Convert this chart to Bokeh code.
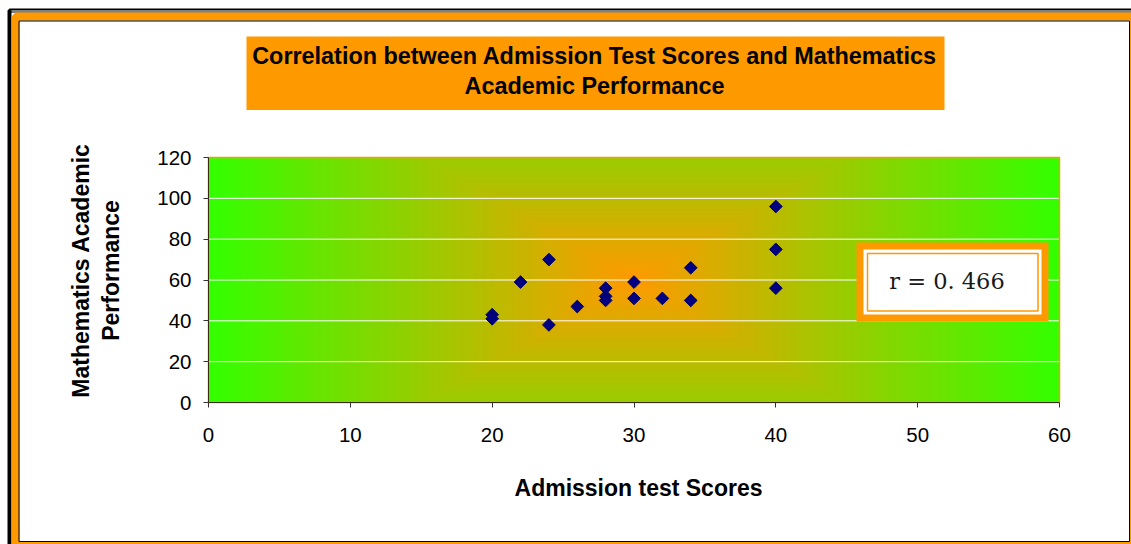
import numpy as np
from bokeh.plotting import figure
from bokeh.models import Range1d, FixedTicker, BoxAnnotation, Label
from bokeh.embed import file_html
from bokeh.resources import INLINE

# ---------------- data ----------------
admission_scores = [20, 20, 22, 24, 24, 26, 28, 28, 28, 30, 30, 32, 34, 34, 40, 40, 40]
math_performance = [43, 41, 59, 70, 38, 47, 56, 52, 50, 59, 51, 51, 66, 50, 96, 75, 56]
x_ticks = [0, 10, 20, 30, 40, 50, 60]
y_ticks = [0, 20, 40, 60, 80, 100, 120]
title_lines = ["Correlation between Admission Test Scores and Mathematics",
               "Academic Performance"]
x_title = "Admission test Scores"
y_title_lines = ["Mathematics Academic", "Performance"]
r_text = "r = 0. 466"

# ---------------- layout / style ----------------
ORANGE = "#FF9900"
EDGE_GREEN = np.array([0x33, 0xFF, 0x00], dtype=float)
CENTER_ORANGE = np.array([0xFF, 0x99, 0x00], dtype=float)
W, H = 1131, 544
PLOT_L, PLOT_R, PLOT_T, PLOT_B = 208, 1059, 157, 402   # plot area in page pixels
SANS = "Liberation Sans"

x0, x1 = x_ticks[0], x_ticks[-1]
y0, y1 = y_ticks[0], y_ticks[-1]
kx = (PLOT_R - PLOT_L) / (x1 - x0)
ky = (PLOT_B - PLOT_T) / (y1 - y0)
x_range = Range1d(x0 - PLOT_L / kx, x1 + (W - PLOT_R) / kx)
y_range = Range1d(y0 - (H - PLOT_B) / ky, y1 + PLOT_T / ky)

p = figure(width=W, height=H, output_backend="svg", toolbar_location=None,
           title=None, x_range=x_range, y_range=y_range, min_border=0)
p.border_fill_color = "white"
p.background_fill_color = "white"
p.outline_line_color = None
p.grid.visible = False

# "from centre" gradient built from nested rectangles:
# level t = max(|dx|/half_width, VERT * |dy|/half_height)
xc, yc = (x0 + x1) / 2, (y0 + y1) / 2
hw, hh = (x1 - x0) / 2, (y1 - y0) / 2
VERT = 0.5
N = 160
ts = np.linspace(1.0, 0.0, N, endpoint=False)
hh_t = hh * np.minimum(ts / VERT, 1.0)
cols = []
for t in ts:
    c = CENTER_ORANGE + (EDGE_GREEN - CENTER_ORANGE) * t
    cols.append("#%02x%02x%02x" % tuple(int(round(v)) for v in c))
p.quad(left=xc - hw * ts, right=xc + hw * ts, bottom=yc - hh_t, top=yc + hh_t,
       fill_color=cols, line_color=None, level="image")

# horizontal white grid lines across the plot area
inner = y_ticks[1:-1]
p.segment(x0=[x0] * len(inner), x1=[x1] * len(inner), y0=inner, y1=inner,
          line_color="white", line_width=1)
# orange plot-area border
p.quad(left=[x0], right=[x1], bottom=[y0], top=[y1], fill_color=None,
       line_color=ORANGE, line_width=1.5)

# axes (fixed at the plot area's edges)
p.xaxis.fixed_location = y0
p.yaxis.fixed_location = x0
p.xaxis.bounds = (x0, x1)
p.yaxis.bounds = (y0, y1)
for ax, ticks in ((p.xaxis[0], x_ticks), (p.yaxis[0], y_ticks)):
    ax.ticker = FixedTicker(ticks=ticks)
    ax.axis_line_color = "#3a2a10"
    ax.axis_line_width = 1
    ax.major_tick_line_color = "#333333"
    ax.major_tick_out = 5
    ax.major_tick_in = 0
    ax.minor_tick_line_color = None
    ax.major_label_text_font = SANS
    ax.major_label_text_font_size = "20.5px"
    ax.major_label_text_color = "black"
p.xaxis[0].major_label_standoff = 20
p.yaxis[0].major_label_standoff = 12

# data points
p.scatter(admission_scores, math_performance, marker="square", angle=np.pi / 4,
          size=9, fill_color="#000080", line_color="#000066", line_width=1)

# ---------------- decorations (canvas pixels, y downward) ----------------
def cbox(l, r, t, b, **kw):
    kw.setdefault("fill_alpha", 1.0)
    kw.setdefault("line_alpha", 1.0)
    box = BoxAnnotation(left=l, right=r, top=t, bottom=b,
                        left_units="canvas", right_units="canvas",
                        top_units="canvas", bottom_units="canvas", **kw)
    p.add_layout(box)
    return box

def clabel(x, y, text, **kw):
    lab = Label(x=x, y=y, x_units="canvas", y_units="canvas", text=text,
                text_align="center", text_baseline="middle", **kw)
    p.add_layout(lab)
    return lab

# outer page frame
cbox(9, W + 10, 10, H + 10, fill_color=None, line_color="black", line_width=4)
cbox(11, W + 10, 10, 11, fill_color="white", line_color=None)
cbox(15, W + 2, 16, H + 1, fill_color=None, line_color=ORANGE, line_width=8)
cbox(18.5, W - 2, 20.5, H - 3, fill_color=None, line_color="black", line_width=1)

# title box
cbox(246, 944, 36, 109.5, fill_color=ORANGE, line_color=None)
for i, line in enumerate(title_lines):
    clabel(594, 55 + 30 * i, line, text_font=SANS, text_font_style="bold",
           text_font_size="23.4px", text_color="black")

# axis titles
clabel(638, 487, x_title, text_font=SANS, text_font_style="bold",
       text_font_size="23px", text_color="black")
for i, line in enumerate(y_title_lines):
    clabel(80 + 30.5 * i, 270, line, angle=np.pi / 2, text_font=SANS,
           text_font_style="bold", text_font_size="23px", text_color="black")

# r box
cbox(856, 1048, 242, 321, fill_color=ORANGE, line_color=None)
cbox(863, 1041, 249, 314, fill_color="white", line_color=None)
cbox(867, 1037.5, 253, 310.5, fill_color=None, line_color=ORANGE, line_width=1.5)
clabel(946.5, 280.5, r_text, text_font="DejaVu Serif", text_font_size="22.5px",
       text_color="#1a1a1a")

open("out.html", "w").write(file_html(p, INLINE))
